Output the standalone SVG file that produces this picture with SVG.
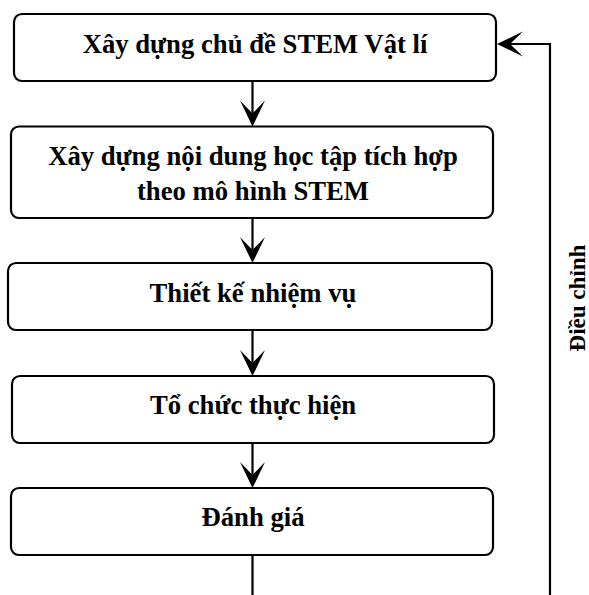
<svg xmlns="http://www.w3.org/2000/svg" width="589" height="595" viewBox="0 0 589 595">
<style>
.box{fill:#fff;stroke:#000;stroke-width:2.2}
.t{font-family:"Liberation Serif","Times New Roman",serif;font-weight:bold;font-size:26.7px;fill:#000;text-anchor:middle}
.lbl{font-family:"Liberation Serif","Times New Roman",serif;font-weight:bold;font-size:23px;fill:#000;text-anchor:middle}
.ln{fill:none;stroke:#000;stroke-width:2.2}
.ah{fill:#000;stroke:none}
</style>
<defs>
<path id="ahd" class="ah" d="M0,0 L-12.5,-26 L0,-13 L12.5,-26 Z"/>
</defs>
<g id="connectors">
<line class="ln" x1="252.5" y1="81" x2="252.5" y2="115"/>
<use href="#ahd" x="252.5" y="126.5"/>
<line class="ln" x1="252.5" y1="218" x2="252.5" y2="252"/>
<use href="#ahd" x="252.5" y="263"/>
<line class="ln" x1="252.5" y1="330" x2="252.5" y2="365"/>
<use href="#ahd" x="252.5" y="376"/>
<line class="ln" x1="252.5" y1="443" x2="252.5" y2="477"/>
<use href="#ahd" x="252.5" y="488"/>
<polyline class="ln" points="252.5,555 252.5,600 550,600 550,44 508,44"/>
<path class="ah" d="M497,44 L523,31.5 L510,44 L523,56.5 Z"/>
</g>
<g id="node1">
<rect class="box" x="14" y="14" width="482" height="67" rx="8"/>
<text class="t" x="255" y="53">Xây dựng chủ đề STEM Vật lí</text>
</g>
<g id="node2">
<rect class="box" x="11" y="126.5" width="482" height="91.5" rx="8"/>
<text class="t" x="253" y="165">Xây dựng nội dung học tập tích hợp</text>
<text class="t" x="253" y="200">theo mô hình STEM</text>
</g>
<g id="node3">
<rect class="box" x="8" y="263" width="484" height="67" rx="8"/>
<text class="t" x="253" y="302">Thiết kế nhiệm vụ</text>
</g>
<g id="node4">
<rect class="box" x="12" y="376" width="482" height="67" rx="8"/>
<text class="t" x="253" y="414">Tổ chức thực hiện</text>
</g>
<g id="node5">
<rect class="box" x="11" y="488" width="482" height="67" rx="8"/>
<text class="t" x="253" y="526">Đánh giá</text>
</g>
<g id="label">
<text class="lbl" x="585" y="298" transform="rotate(-90 585 298)">Điều chỉnh</text>
</g>
</svg>
